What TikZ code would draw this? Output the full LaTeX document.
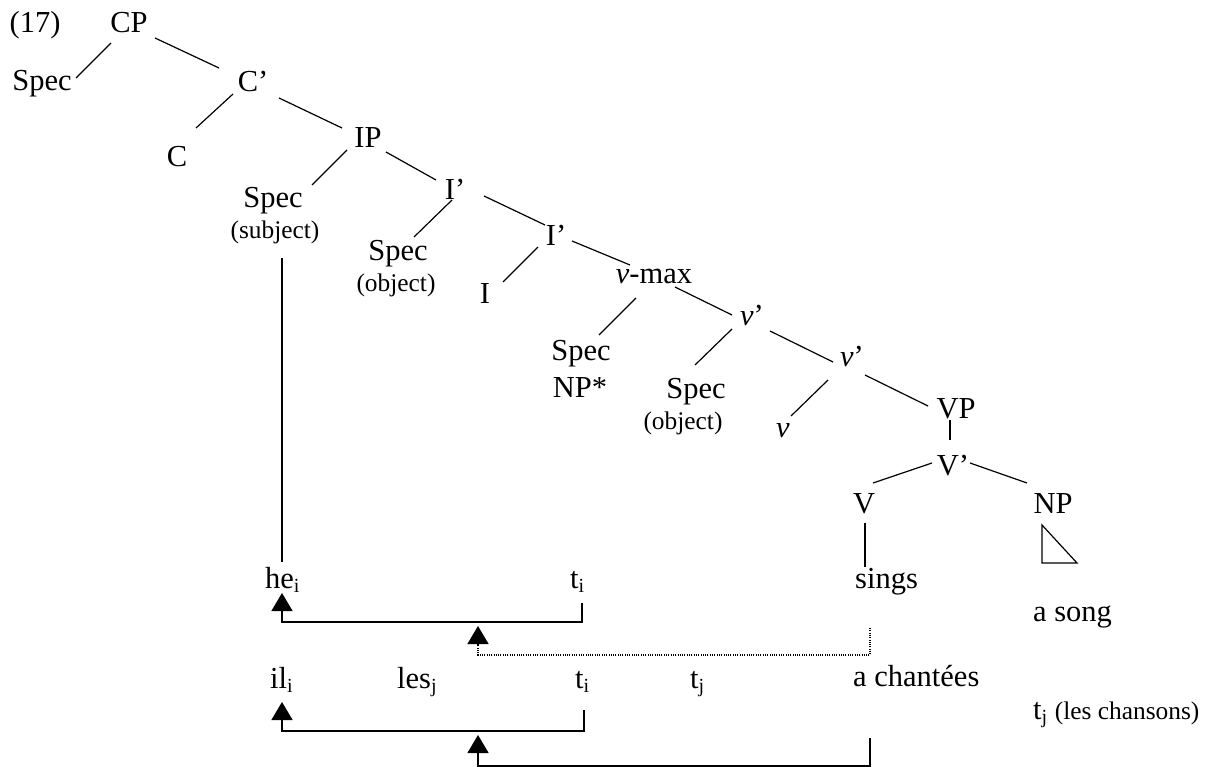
\documentclass[tikz,border=0pt]{standalone}
\usepackage{fontspec}
\setmainfont{Liberation Serif}
\usetikzlibrary{arrows.meta}
\newcommand\sbx[1]{\raisebox{-4pt}{\fontsize{20}{20}\selectfont #1}}
\newcommand\edg[4]{\draw[edge] ([shift={#2}]#1.base) -- ([shift={#4}]#3.base);}
\begin{document}
\begin{tikzpicture}[x=1pt,y=-1pt, font=\fontsize{30.5}{34}\selectfont,
  lbl/.style={inner sep=0pt, anchor=base},
  lblw/.style={inner sep=0pt, anchor=base west},
  small/.style={font=\fontsize{25.4}{28}\selectfont},
  edge/.style={line width=1.2pt},
  mv/.style={line width=1.3pt, -{Triangle[width=21pt,length=18pt]}},
  dmv/.style={mv, dash pattern=on 1pt off 1.3pt}]
\useasboundingbox (0,0) rectangle (1225,767);
% tree labels
\node[lbl] (n17) at (35,33) {(17)};
\node[lbl] (CP) at (129,33) {CP};
\node[lbl] (spec1) at (42,91) {Spec};
\node[lbl] (C1) at (253,92) {C’};
\node[lbl] (C) at (177,167) {C};
\node[lbl] (IP) at (368,148) {IP};
\node[lbl] (specS) at (273,208) {Spec};
\node[lbl,small] (subj) at (275,239) {(subject)};
\node[lbl] (I1) at (455,200) {I’};
\node[lbl] (specO) at (398,260) {Spec};
\node[lbl,small] (obj1) at (396,291) {(object)};
\node[lbl] (I2) at (556,245) {I’};
\node[lbl] (I) at (485,303) {I};
\node[lbl] (vmax) at (654,283) {\textit{v}-max};
\node[lbl] (specN) at (581,360) {Spec};
\node[lbl] (np1) at (580,397) {NP*};
\node[lbl] (v1) at (752,325) {\textit{v}’};
\node[lbl] (specO2) at (696,398) {Spec};
\node[lbl,small] (obj2) at (683,429) {(object)};
\node[lbl] (v2) at (852,366) {\textit{v}’};
\node[lbl] (v) at (783,437) {\textit{v}};
\node[lbl] (VP) at (956,418) {VP};
\node[lbl] (V1) at (953,475) {V’};
\node[lbl] (V) at (864,513) {V};
\node[lbl] (NP) at (1053,513) {NP};
% word rows
\node[lblw] (sings) at (855,588) {sings};
\node[lblw] (asong) at (1033,621) {a song};
\node[lblw] (he) at (265,588) {he\sbx{i}};
\node[lblw] (ti1) at (570,588) {t\sbx{i}};
\node[lblw] (il) at (270,688) {il\sbx{i}};
\node[lblw] (les) at (397,688) {les\sbx{j}};
\node[lblw] (ti2) at (575,688) {t\sbx{i}};
\node[lblw] (tj) at (690,688) {t\sbx{j}};
\node[lblw] (ach) at (853,686) {a chantées};
\node[lblw] (tjl) at (1033,719) {t\sbx{j} {\fontsize{25.4}{28}\selectfont (les chansons)}};
% tree edges
\edg{CP}{(-18,10)}{spec1}{(34,-13)}
\edg{CP}{(26,5)}{C1}{(-34,-24)}
\edg{C1}{(-20,2)}{C}{(19,-39)}
\edg{C1}{(26,6)}{IP}{(-26,-20)}
\edg{IP}{(-21,2)}{specS}{(39,-23)}
\edg{IP}{(18,4)}{I1}{(-19,-20)}
\edg{I1}{(-3,0)}{specO}{(16,-23)}
\edg{I1}{(29,-4)}{I2}{(-11,-20)}
\edg{I2}{(-18,2)}{I}{(18,-21)}
\edg{I2}{(16,-4)}{vmax}{(-24,-18)}
\edg{vmax}{(-18,15)}{specN}{(18,-25)}
\edg{vmax}{(21,4)}{v1}{(-20,-10)}
\edg{v1}{(-20,4)}{specO2}{(-1,-33)}
\edg{v1}{(18,6)}{v2}{(-19,-4)}
\edg{v2}{(-24,14)}{v}{(8,-21)}
\edg{v2}{(13,9)}{VP}{(-28,-12)}
\edg{VP}{(-6,2)}{V1}{(-3,-35)}
\edg{V1}{(-21,-12)}{V}{(9,-30)}
\edg{V1}{(17,-12)}{NP}{(-26,-30)}
\draw[edge] ([shift={(1,10)}]V.base) -- ([shift={(10,-21)}]sings.base west);
\draw[edge] ([shift={(9,50)}]specS.base) -- ([shift={(17,-26)}]he.base west);
\draw[line width=1.2pt] ([shift={(-11,12)}]NP.base) -- ([shift={(-11,50)}]NP.base) -- ([shift={(24,50)}]NP.base) -- cycle;
% movement arrows
\coordinate (m1) at (478,626);
\coordinate (m2) at (478,735);
\draw[mv] ([shift={(12,15)}]ti1.base west) |- ([shift={(17,34)}]he.base west) -- ([shift={(17,5)}]he.base west);
\draw[dmv] ([shift={(15,40)}]sings.base west) |- ([shift={(0,29)}]m1) -- (m1);
\draw[mv] ([shift={(9,22)}]ti2.base west) |- ([shift={(12,43)}]il.base west) -- ([shift={(12,14)}]il.base west);
\draw[mv] ([shift={(17,52)}]ach.base west) |- ([shift={(0,31)}]m2) -- (m2);
\end{tikzpicture}
\end{document}
